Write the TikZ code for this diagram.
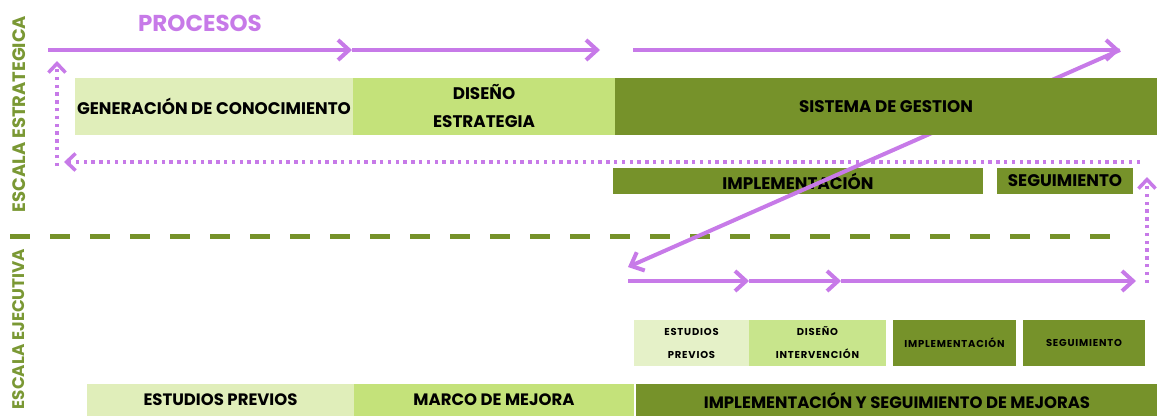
\documentclass[tikz,border=0pt]{standalone}
\usepackage{fontspec}
\setmainfont{Poppins}
\usetikzlibrary{arrows.meta}
\definecolor{purp}{RGB}{199,122,232}
\definecolor{olivebox}{RGB}{118,146,42}
\definecolor{palebox}{RGB}{224,238,186}
\definecolor{midbox}{RGB}{196,226,122}
\definecolor{palesm}{RGB}{229,241,200}
\definecolor{midsm}{RGB}{200,229,140}
\definecolor{lblgreen}{RGB}{122,152,52}
\begin{document}
\begin{tikzpicture}[x=1pt,y=-1pt,
  box/.style={fill=#1, draw=none, inner sep=0pt, align=center, text=black,
    font=\bfseries\fontsize{16.8}{28}\selectfont},
  smallbox/.style={fill=#1, draw=none, inner sep=0pt, align=center, text=black,
    font=\bfseries\fontsize{10}{23}\selectfont\addfontfeature{LetterSpace=8}},
  botbox/.style={fill=#1, draw=none, inner sep=0pt, align=center, text=black,
    font=\bfseries\fontsize{16.5}{18}\selectfont},
  parrow/.style={draw=purp, line width=4pt, -{Straight Barb[length=11pt,width=20pt]}},
  pdots/.style={draw=purp, line width=3.5pt, dash pattern=on 3.5pt off 4.3pt,
    -{Straight Barb[length=9pt,width=17pt,line width=3.5pt]}},
  scalelbl/.style={text=lblgreen, rotate=90, inner sep=0pt}]
\useasboundingbox (0,0) rectangle (1157,416);
% labels
\node[text=purp, font=\bfseries\fontsize{23}{26}\selectfont] (proc) at (200,23) {PROCESOS};
\node[scalelbl, font=\bfseries\fontsize{18}{20}\selectfont] (estr) at (19,114) {ESCALA ESTRATEGICA};
\node[scalelbl, font=\bfseries\fontsize{16.8}{20}\selectfont] (ejec) at (19,329) {ESCALA EJECUTIVA};
% separator
\coordinate (s0) at (10,236);
\coordinate (s1) at (1110,236);
\draw[olivebox, line width=5pt, dash pattern=on 20pt off 20pt] (s0) -- (s1);
% top process arrows
\coordinate (p0) at (48,50);
\coordinate (p1) at (352,50);
\coordinate (p2) at (600,50);
\coordinate (p3) at (633,50);
\coordinate (p4) at (1120,50);
\draw[parrow] (p0) -- (p1);
\draw[parrow] (p1) -- (p2);
\draw[parrow] (p3) -- (p4);
% implementation row
\node[box=olivebox, minimum width=370pt, minimum height=26pt] (impl) at (798,181) {IMPLEMENTACIÓN};
\node[box=olivebox, minimum width=136pt, minimum height=26pt] (seg) at (1065,181) {SEGUIMIENTO};
% diagonal
\coordinate (d1) at (628,267);
\draw[parrow] (p4) -- (d1);
% top boxes
\node[box=palebox, minimum width=278pt, minimum height=57pt] (gen) at (214,106.5) {GENERACIÓN DE CONOCIMIENTO};
\node[box=midbox, minimum width=262pt, minimum height=57pt] (dis) at (484,106.5) {DISEÑO\\ESTRATEGIA};
\node[box=olivebox, minimum width=542pt, minimum height=57pt] (sis) at (886,106.5) {SISTEMA DE GESTION};
% feedback dotted arrows
\coordinate (f0) at (1140,162);
\coordinate (f1) at (64,162);
\coordinate (f2) at (57,166);
\coordinate (f3) at (57,61);
\coordinate (f4) at (1147,283);
\coordinate (f5) at (1147,177);
\draw[pdots] (f0) -- (f1);
\draw[pdots] (f2) -- (f3);
\draw[pdots] (f4) -- (f5);
% lower process arrows
\coordinate (q0) at (628,281);
\coordinate (q1) at (749,281);
\coordinate (q2) at (841,281);
\coordinate (q3) at (1136,281);
\draw[parrow] (q0) -- (q1);
\draw[parrow] (q1) -- (q2);
\draw[parrow] (q2) -- (q3);
% small boxes
\node[smallbox=palesm, minimum width=115pt, minimum height=46pt] (ep) at (691.5,343) {ESTUDIOS\\PREVIOS};
\node[smallbox=midsm, minimum width=137pt, minimum height=46pt] (di) at (817.5,343) {DISEÑO\\INTERVENCIÓN};
\node[smallbox=olivebox, minimum width=123pt, minimum height=46pt] (im) at (954.5,343) {IMPLEMENTACIÓN};
\node[smallbox=olivebox, minimum width=122pt, minimum height=46pt] (sg) at (1084,343) {SEGUIMIENTO};
% bottom row
\node[botbox=palebox, minimum width=267pt, minimum height=32pt] (bep) at (220.5,400) {ESTUDIOS PREVIOS};
\node[botbox=midbox, minimum width=280pt, minimum height=32pt] (bmm) at (494,400) {MARCO DE MEJORA};
\node[botbox=olivebox, minimum width=523pt, minimum height=32pt] (bis) at (897,400) {IMPLEMENTACIÓN Y SEGUIMIENTO DE MEJORAS};
\end{tikzpicture}
\end{document}
